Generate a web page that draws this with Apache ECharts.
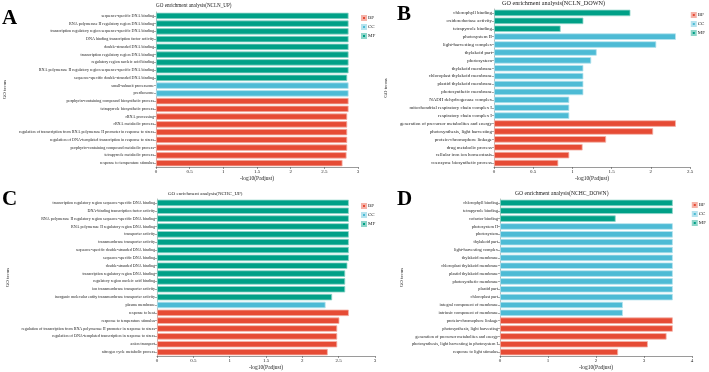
<!DOCTYPE html>
<html lang="en">
<head>
<meta charset="UTF-8">
<title>GO enrichment</title>
<script src="https://cdn.jsdelivr.net/npm/echarts@6/dist/echarts.min.js"></script>
<style>body{margin:0;background:#fff}</style>
</head>
<body>
<div id="main" style="width:709px;height:372px;"></div>
<script>
// ---- panel A: NCLN_UP ----
var aTerms = ['sequence-specific DNA binding','RNA polymerase II regulatory region DNA binding','transcription regulatory region sequence-specific DNA binding','DNA binding transcription factor activity','double-stranded DNA binding','transcription regulatory region DNA binding','regulatory region nucleic acid binding','RNA polymerase II regulatory region sequence-specific DNA binding','sequence-specific double-stranded DNA binding','small-subunit processome','preribosome','porphyrin-containing compound biosynthetic process','tetrapyrrole biosynthetic process','rRNA processing','rRNA metabolic process','regulation of transcription from RNA polymerase II promoter in response to stress','regulation of DNA-templated transcription in response to stress','porphyrin-containing compound metabolic process','tetrapyrrole metabolic process','response to temperature stimulus'];
var aValues = [2.86,2.86,2.86,2.86,2.86,2.86,2.86,2.86,2.84,2.86,2.86,2.86,2.86,2.84,2.84,2.84,2.84,2.84,2.83,2.77];
var aGroups = ['MF','MF','MF','MF','MF','MF','MF','MF','MF','CC','CC','BP','BP','BP','BP','BP','BP','BP','BP','BP'];

// ---- panel B: NCLN_DOWN ----
var bTerms = ['chlorophyll binding','oxidoreductase activity','tetrapyrrole binding','photosystem II','light-harvesting complex','thylakoid part','photosystem','thylakoid membrane','chloroplast thylakoid membrane','plastid thylakoid membrane','photosynthetic membrane','NADH dehydrogenase complex','mitochondrial respiratory chain complex I','respiratory chain complex I','generation of precursor metabolites and energy','photosynthesis, light harvesting','protein-chromophore linkage','drug metabolic process','cellular iron ion homeostasis','coenzyme biosynthetic process'];
var bValues = [1.74,1.14,0.85,2.32,2.07,1.31,1.24,1.14,1.14,1.14,1.14,0.96,0.96,0.96,2.32,2.03,1.43,1.13,0.96,0.82];
var bGroups = ['MF','MF','MF','CC','CC','CC','CC','CC','CC','CC','CC','CC','CC','CC','BP','BP','BP','BP','BP','BP'];

// ---- panel C: NCHC_UP ----
var cTerms = ['transcription regulatory region sequence-specific DNA binding','DNA-binding transcription factor activity','RNA polymerase II regulatory region sequence-specific DNA binding','RNA polymerase II regulatory region DNA binding','transporter activity','transmembrane transporter activity','sequence-specific double-stranded DNA binding','sequence-specific DNA binding','double-stranded DNA binding','transcription regulatory region DNA binding','regulatory region nucleic acid binding','ion transmembrane transporter activity','inorganic molecular entity transmembrane transporter activity','plasma membrane','response to heat','response to temperature stimulus','regulation of transcription from RNA polymerase II promoter in response to stress','regulation of DNA-templated transcription in response to stress','anion transport','nitrogen cycle metabolic process'];
var cValues = [2.64,2.64,2.64,2.64,2.64,2.64,2.64,2.64,2.62,2.59,2.59,2.59,2.41,2.32,2.64,2.51,2.48,2.48,2.48,2.35];
var cGroups = ['MF','MF','MF','MF','MF','MF','MF','MF','MF','MF','MF','MF','MF','CC','BP','BP','BP','BP','BP','BP'];

// ---- panel D: NCHC_DOWN ----
var dTerms = ['chlorophyll binding','tetrapyrrole binding','cofactor binding','photosystem II','photosystem','thylakoid part','light-harvesting complex','thylakoid membrane','chloroplast thylakoid membrane','plastid thylakoid membrane','photosynthetic membrane','plastid part','chloroplast part','integral component of membrane','intrinsic component of membrane','protein-chromophore linkage','photosynthesis, light harvesting','generation of precursor metabolites and energy','photosynthesis, light harvesting in photosystem I','response to light stimulus'];
var dValues = [3.60,3.60,2.41,3.60,3.60,3.60,3.60,3.60,3.60,3.60,3.60,3.60,3.60,2.56,2.56,3.60,3.60,3.47,3.08,2.46];
var dGroups = ['MF','MF','MF','CC','CC','CC','CC','CC','CC','CC','CC','CC','CC','CC','CC','BP','BP','BP','BP','BP'];

var titles = ['GO enrichment analysis(NCLN_UP)','GO enrichment analysis(NCLN_DOWN)','GO enrichment analysis(NCHC_UP)','GO enrichment analysis(NCHC_DOWN)'];
var groupNames = ['BP','CC','MF'];

var colors = {BP: '#E64B35', CC: '#4DBBD5', MF: '#00A087'};
var edges = {BP: '#f5b2a8', CC: '#b5e3ee', MF: '#8fd6ca'};
var serif = 'Liberation Serif';

var panels = [
    {terms: aTerms, values: aValues, groups: aGroups, max: 3, step: 0.5, fs: 4.1, gap: 149,
     grid: {left: 156, top: 12, width: 202, height: 155}},
    {terms: bTerms, values: bValues, groups: bGroups, max: 2.5, step: 0.5, fs: 4.9, gap: 106,
     grid: {left: 494, top: 9, width: 196, height: 158}},
    {terms: cTerms, values: cValues, groups: cGroups, max: 3, step: 0.5, fs: 4.05, gap: 147,
     grid: {left: 157, top: 199, width: 218, height: 157}},
    {terms: dTerms, values: dValues, groups: dGroups, max: 4, step: 1, fs: 4.4, gap: 96,
     grid: {left: 500, top: 199, width: 192, height: 159}}
];

var grids = [], xAxes = [], yAxes = [], series = [];
panels.forEach(function (p, i) {
    grids.push(p.grid);
    xAxes.push({
        type: 'value', gridIndex: i, min: 0, max: p.max, interval: p.step,
        splitLine: {show: false},
        axisLine: {show: true, lineStyle: {color: '#555', width: 0.6}},
        axisTick: {show: true, length: 2, lineStyle: {color: '#555', width: 0.6}},
        axisLabel: {fontSize: 5, fontFamily: serif, color: '#222', margin: 2},
        name: '-log10(Padjust)', nameLocation: 'middle', nameGap: 9,
        nameTextStyle: {fontSize: 5.5, fontFamily: serif, color: '#222'}
    });
    yAxes.push({
        type: 'category', gridIndex: i, inverse: true, data: p.terms,
        axisLine: {show: true, lineStyle: {color: '#777', width: 0.5}},
        axisTick: {show: true, length: 2, alignWithLabel: true, lineStyle: {color: '#555', width: 0.5}},
        axisLabel: {fontSize: p.fs, fontFamily: serif, color: '#222', margin: 2, interval: 0},
        name: 'GO terms', nameLocation: 'middle', nameRotate: 90, nameGap: p.gap,
        nameTextStyle: {fontSize: 5, fontFamily: serif, color: '#222'}
    });
    groupNames.forEach(function (g) {
        series.push({
            name: g, type: 'bar', xAxisIndex: i, yAxisIndex: i, stack: 'p' + i,
            barCategoryGap: '18%', silent: true,
            itemStyle: {color: colors[g], borderColor: edges[g], borderWidth: 0.8},
            data: p.values.map(function (v, k) { return p.groups[k] === g ? v : '-'; })
        });
    });
});

function legendAt(pos) {
    return Object.assign({
        data: groupNames, orient: 'vertical', padding: 0,
        itemWidth: 4, itemHeight: 4, itemGap: 3, icon: 'rect', selectedMode: false,
        textStyle: {fontSize: 5, fontFamily: serif, color: '#222', padding: [0, 0, 0, -3]}
    }, pos);
}

function titleAt(text, left, top, fs) {
    return {text: text, left: left, top: top, padding: 0,
        textStyle: {fontSize: fs, fontWeight: 'normal', fontFamily: serif, color: '#222'}};
}

function letter(ch, left, top) {
    return {type: 'text', left: left, top: top,
        style: {text: ch, fontSize: 21, fontWeight: 'bold', fontFamily: serif, fill: '#000'}};
}

var chart = echarts.init(document.getElementById('main'), null, {renderer: 'canvas'});
chart.setOption({
    backgroundColor: '#fff',
    animation: false,
    title: [
        titleAt(titles[0], 156, 3, 5.1),
        titleAt(titles[1], 502, 0, 6.2),
        titleAt(titles[2], 168, 191, 5),
        titleAt(titles[3], 515, 191, 5.6)
    ],
    legend: [
        legendAt({left: 361, top: 15}),
        legendAt({right: 4, top: 12}),
        legendAt({left: 361, top: 203}),
        legendAt({right: 3, top: 202})
    ],
    grid: grids,
    xAxis: xAxes,
    yAxis: yAxes,
    series: series,
    graphic: [letter('A', 2, 8), letter('B', 397, 4), letter('C', 2, 189), letter('D', 397, 189)]
});
</script>
</body>
</html>
